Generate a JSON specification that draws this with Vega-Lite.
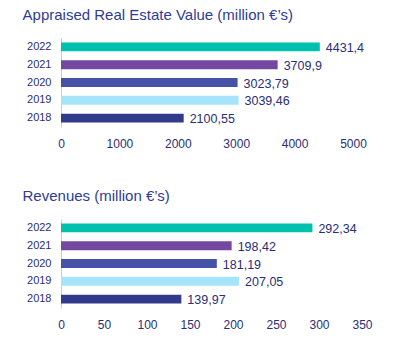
{
  "$schema": "https://vega.github.io/schema/vega-lite/v6.json",
  "padding": {"left": 22, "top": 8, "right": 5, "bottom": 5},
  "background": "white",
  "config": {
    "font": "Liberation Sans",
    "view": {"stroke": null},
    "locale": {"number": {"decimal": ",", "thousands": ".", "grouping": [3], "currency": ["", "€"]}},
    "title": {"anchor": "start", "frame": "bounds", "fontSize": 15, "fontWeight": "normal", "color": "#2E3C96", "dx": -4, "offset": 15},
    "axis": {"labelColor": "#2A2E78", "labelFont": "Liberation Sans"},
    "concat": {"spacing": 40}
  },
  "datasets": {
    "ares": [
      {"year": "2022", "value": 4431.4},
      {"year": "2021", "value": 3709.9},
      {"year": "2020", "value": 3023.79},
      {"year": "2019", "value": 3039.46},
      {"year": "2018", "value": 2100.55}
    ],
    "rev": [
      {"year": "2022", "value": 292.34},
      {"year": "2021", "value": 198.42},
      {"year": "2020", "value": 181.19},
      {"year": "2019", "value": 207.05},
      {"year": "2018", "value": 139.97}
    ]
  },
  "vconcat": [
    {
      "title": "Appraised Real Estate Value (million €’s)",
      "width": 292,
      "height": 89,
      "data": {"name": "ares"},
      "encoding": {
        "y": {"field": "year", "type": "nominal", "sort": "descending", "title": null,
          "scale": {"paddingInner": 0.5, "paddingOuter": 0.25},
          "axis": {"ticks": false, "domainColor": "#CCCCCC", "labelPadding": 10, "labelFontSize": 11}},
        "x": {"field": "value", "type": "quantitative", "title": null,
          "scale": {"domain": [0, 5000]},
          "axis": {"values": [0, 1000, 2000, 3000, 4000, 5000], "format": "d", "grid": false, "domain": false, "ticks": false, "labelFlush": false, "labelPadding": 11, "labelFontSize": 12}}
      },
      "layer": [
        {"mark": {"type": "bar"},
          "encoding": {"color": {"field": "year", "type": "nominal", "legend": null,
            "scale": {"domain": ["2022", "2021", "2020", "2019", "2018"], "range": ["#00C1AE", "#7447A0", "#4651A8", "#A6E4FA", "#323A8C"]}}}},
        {"mark": {"type": "text", "align": "left", "baseline": "middle", "dx": 6, "dy": 1, "fontSize": 12.5, "color": "#2A2E78"},
          "encoding": {"text": {"field": "value", "type": "quantitative", "format": "~f"}}}
      ]
    },
    {
      "title": "Revenues (million €’s)",
      "width": 301,
      "height": 89,
      "data": {"name": "rev"},
      "encoding": {
        "y": {"field": "year", "type": "nominal", "sort": "descending", "title": null,
          "scale": {"paddingInner": 0.5, "paddingOuter": 0.25},
          "axis": {"ticks": false, "domainColor": "#CCCCCC", "labelPadding": 10, "labelFontSize": 11}},
        "x": {"field": "value", "type": "quantitative", "title": null,
          "scale": {"domain": [0, 350]},
          "axis": {"values": [0, 50, 100, 150, 200, 250, 300, 350], "format": "d", "grid": false, "domain": false, "ticks": false, "labelFlush": false, "labelPadding": 11, "labelFontSize": 12}}
      },
      "layer": [
        {"mark": {"type": "bar"},
          "encoding": {"color": {"field": "year", "type": "nominal", "legend": null,
            "scale": {"domain": ["2022", "2021", "2020", "2019", "2018"], "range": ["#00C1AE", "#7447A0", "#4651A8", "#A6E4FA", "#323A8C"]}}}},
        {"mark": {"type": "text", "align": "left", "baseline": "middle", "dx": 6, "dy": 1, "fontSize": 12.5, "color": "#2A2E78"},
          "encoding": {"text": {"field": "value", "type": "quantitative", "format": "~f"}}}
      ]
    }
  ],
  "resolve": {"scale": {"color": "independent"}}
}
